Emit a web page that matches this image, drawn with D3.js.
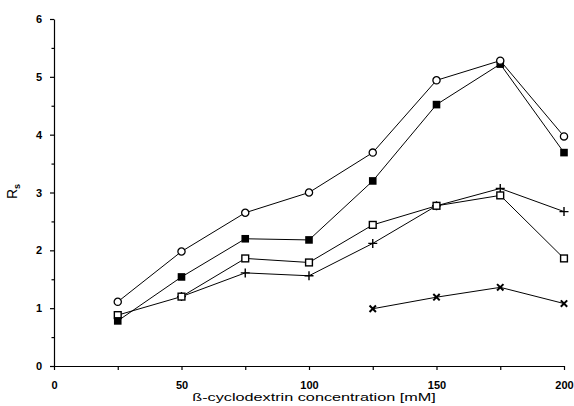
<!DOCTYPE html>
<html>
<head>
<meta charset="utf-8">
<script src="https://cdn.jsdelivr.net/npm/d3@7"></script>
<style>
  body { margin: 0; background: #fff; }
  svg { display: block; }
  .tick text { font-family: "Liberation Sans", Arial, sans-serif; font-weight: bold; font-size: 11px; fill: #000; }
</style>
</head>
<body>
<div id="chart"></div>
<script>
// concentrations (mM)
var conc = [25, 50, 75, 100, 125, 150, 175, 200];

// Rs values, one array per series
var openCircle = [1.11, 1.98, 2.65, 3.0, 3.69, 4.94, 5.28, 3.97];
var filledSquare = [0.78, 1.54, 2.2, 2.18, 3.2, 4.52, 5.22, 3.69];
var openSquare = [0.88, 1.2, 1.86, 1.79, 2.44, 2.77, 2.95, 1.86];
var plusSeries = [null, 1.2, 1.61, 1.56, 2.12, 2.77, 3.07, 2.67];
var crossSeries = [null, null, null, null, 0.99, 1.19, 1.36, 1.08];

var xTicks = [0, 50, 100, 150, 200];
var yTicks = [0, 1, 2, 3, 4, 5, 6];

var width = 574, height = 406;

var svg = d3.select("#chart").append("svg")
  .attr("width", width)
  .attr("height", height);

var x = d3.scaleLinear().domain([0, 200]).range([54, 564]);
var y = d3.scaleLinear().domain([0, 6]).range([366, 19]);

// minor ticks first, then main axes on top
svg.append("g")
  .attr("transform", "translate(0," + y(0) + ")")
  .call(d3.axisBottom(x).tickValues(d3.range(25, 200, 50)).tickSize(4).tickSizeOuter(0).tickFormat(""))
  .select(".domain").remove();

svg.append("g")
  .attr("transform", "translate(" + x(0) + ",0)")
  .call(d3.axisLeft(y).tickValues(d3.range(0.5, 6, 1)).tickSize(2.5).tickSizeOuter(0).tickFormat(""))
  .select(".domain").remove();

svg.append("g")
  .attr("transform", "translate(0," + y(0) + ")")
  .call(d3.axisBottom(x).tickValues(xTicks).tickSize(4).tickSizeOuter(0).tickPadding(11).tickFormat(d3.format("d")));

svg.append("g")
  .attr("transform", "translate(" + x(0) + ",0)")
  .call(d3.axisLeft(y).tickValues(yTicks).tickSize(4).tickSizeOuter(0).tickPadding(8).tickFormat(d3.format("d")));

svg.selectAll(".domain, .tick line").attr("stroke", "#000").attr("stroke-width", 1.2);

// axis titles (the scanned font is wide, so stretch it)
svg.append("text")
  .attr("transform", "translate(314,401) scale(1.45,1)")
  .attr("text-anchor", "middle")
  .style("font-family", "Liberation Sans, Arial, sans-serif")
  .style("font-size", "11.2px")
  .text("ß-cyclodextrin concentration [mM]");

var ylab = svg.append("text")
  .attr("transform", "translate(17,199) rotate(-90)")
  .style("font-family", "Liberation Sans, Arial, sans-serif")
  .style("font-size", "14px");
ylab.append("tspan").text("R");
ylab.append("tspan").attr("dy", 3).style("font-size", "9px").style("font-weight", "bold").text("s");

// markers
function plusPath(s) {
  return "M" + (-s) + ",0H" + s + "M0," + (-s) + "V" + s;
}
function timesPath(s) {
  return "M" + (-s) + "," + (-s) + "L" + s + "," + s + "M" + (-s) + "," + s + "L" + s + "," + (-s);
}

var series = [
  { values: crossSeries, marker: "times" },
  { values: plusSeries, marker: "plus" },
  { values: openSquare, marker: "openSquare" },
  { values: filledSquare, marker: "filledSquare" },
  { values: openCircle, marker: "openCircle" }
];

var line = d3.line()
  .defined(function(d) { return d.v != null; })
  .x(function(d) { return x(d.c); })
  .y(function(d) { return y(d.v); });

series.forEach(function(s) {
  var pts = conc.map(function(c, i) { return { c: c, v: s.values[i] }; });

  svg.append("path")
    .datum(pts)
    .attr("fill", "none")
    .attr("stroke", "#000")
    .attr("stroke-width", 1)
    .attr("d", line);

  var g = svg.append("g");
  pts.filter(function(d) { return d.v != null; }).forEach(function(d) {
    var t = "translate(" + x(d.c) + "," + y(d.v) + ")";
    if (s.marker === "openCircle") {
      g.append("circle").attr("transform", t).attr("r", 3.6)
        .attr("fill", "#fff").attr("stroke", "#000").attr("stroke-width", 1.3);
    } else if (s.marker === "filledSquare") {
      g.append("rect").attr("transform", t).attr("x", -3.8).attr("y", -3.8)
        .attr("width", 7.6).attr("height", 7.6).attr("fill", "#000");
    } else if (s.marker === "openSquare") {
      g.append("rect").attr("transform", t).attr("x", -3.4).attr("y", -3.4)
        .attr("width", 6.8).attr("height", 6.8)
        .attr("fill", "#fff").attr("stroke", "#000").attr("stroke-width", 1.4);
    } else if (s.marker === "plus") {
      g.append("path").attr("transform", t).attr("d", plusPath(4.5))
        .attr("stroke", "#000").attr("stroke-width", 1.4);
    } else {
      g.append("path").attr("transform", t).attr("d", timesPath(3.2))
        .attr("stroke", "#000").attr("stroke-width", 2);
    }
  });
});
</script>
</body>
</html>
